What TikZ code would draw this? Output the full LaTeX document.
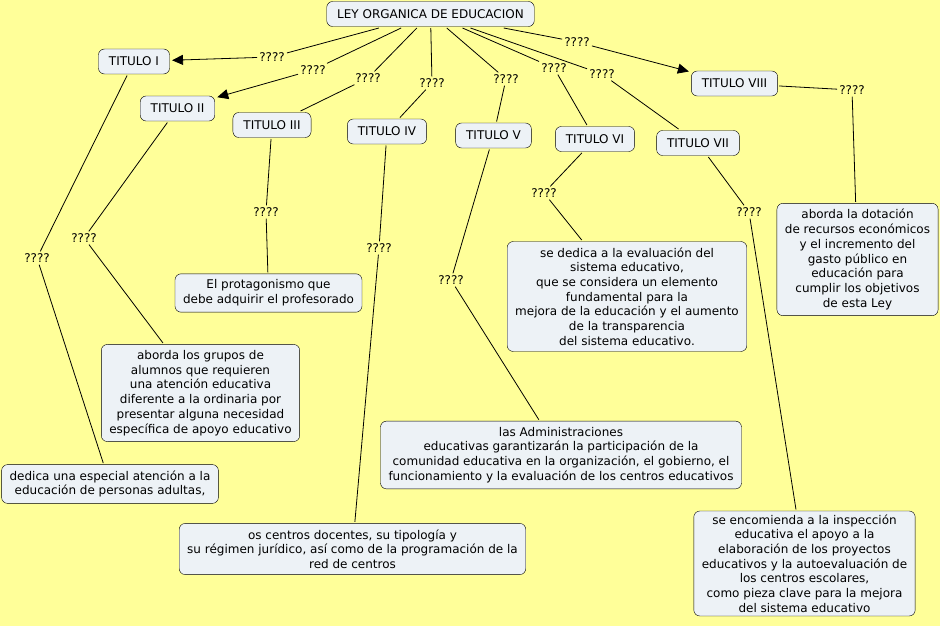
\documentclass[tikz,border=0pt]{standalone}
\usepackage{fontspec}
\setmainfont{DejaVu Sans}
\usetikzlibrary{arrows.meta}
\definecolor{fondo}{RGB}{255,255,153}
\definecolor{caja}{RGB}{237,242,246}

\begin{document}
\begin{tikzpicture}[x=1pt, y=-1pt,
	font=\fontsize{12}{14.7}\selectfont,
	caja/.style = {shape=rectangle, rounded corners=6pt, draw, fill=caja,
		align=center, outer sep=1.5pt},
	titulo/.style = {caja, minimum height=25pt, inner xsep=10.5pt},
	concepto/.style = {caja, inner xsep=8pt, inner ysep=6pt},
	enlace/.style = {inner sep=2pt},
	linea/.style = {draw, line width=0.8pt},
	flecha/.style = {linea, -{Triangle[length=11pt,width=10pt]}, shorten >=1pt}]
	\fill[fondo] (0,0) rectangle (940,626);
	% mapa
	\node[titulo] (ley) at (430.5,14) {LEY ORGANICA DE EDUCACION};
	\node[titulo] (t1) at (134,61.5) {TITULO I};
	\node[titulo] (t2) at (177.5,108.5) {TITULO II};
	\node[titulo] (t3) at (272,125) {TITULO III};
	\node[titulo] (t4) at (387,131.5) {TITULO IV};
	\node[titulo] (t5) at (493.5,135.5) {TITULO V};
	\node[titulo] (t6) at (595,139) {TITULO VI};
	\node[titulo] (t7) at (698,143) {TITULO VII};
	\node[titulo] (t8) at (734.5,83.5) {TITULO VIII};
	% frases de enlace
	\node[enlace] (l1) at (272,57) {????};
	\node[enlace] (l2) at (313,70) {????};
	\node[enlace] (l3) at (368,78) {????};
	\node[enlace] (l4) at (432,83) {????};
	\node[enlace] (l5) at (506,79) {????};
	\node[enlace] (l6) at (554,68) {????};
	\node[enlace] (l7) at (602,74) {????};
	\node[enlace] (l8) at (577,42) {????};
	\node[enlace] (m1) at (37,258) {????};
	\node[enlace] (m2) at (84,238) {????};
	\node[enlace] (m3) at (266,212) {????};
	\node[enlace] (m4) at (379,248) {????};
	\node[enlace] (m5) at (451,280) {????};
	\node[enlace] (m6) at (544,193) {????};
	\node[enlace] (m7) at (749,212) {????};
	\node[enlace] (m8) at (852,90) {????};
	% conceptos
	\node[concepto] (c1) at (110,484) {dedica una especial atención a la\\educación de personas adultas,};
	\node[concepto] (c2) at (200.5,393) {aborda los grupos de\\alumnos que requieren\\una atención educativa\\diferente a la ordinaria por\\presentar alguna necesidad\\específica de apoyo educativo};
	\node[concepto] (c3) at (268.5,293) {El protagonismo que\\debe adquirir el profesorado};
	\node[concepto] (c4) at (352.5,549) {os centros docentes, su tipología y\\su régimen jurídico, así como de la programación de la\\red de centros};
	\node[concepto] (c5) at (561,455) {las Administraciones\\educativas garantizarán la participación de la\\comunidad educativa en la organización, el gobierno, el\\funcionamiento y la evaluación de los centros educativos};
	\node[concepto] (c6) at (627,296.5) {se dedica a la evaluación del\\sistema educativo,\\que se considera un elemento\\fundamental para la\\mejora de la educación y el aumento\\de la transparencia\\del sistema educativo.};
	\node[concepto, inner ysep=3.5pt] (c7) at (804.5,563.5) {se encomienda a la inspección\\educativa el apoyo a la\\elaboración de los proyectos\\educativos y la autoevaluación de\\los centros escolares,\\como pieza clave para la mejora\\del sistema educativo};
	\node[concepto] (c8) at (857.5,259.5) {aborda la dotación\\de recursos económicos\\y el incremento del\\gasto público en\\educación para\\cumplir los objetivos\\de esta Ley};
	% conectores
	\draw[linea] (ley) -- (l1);
	\draw[flecha] (l1) -- (t1);
	\draw[linea] (ley) -- (l2);
	\draw[flecha] (l2) -- (t2);
	\draw[linea] (ley) -- (l8);
	\draw[flecha] (l8) -- (t8);
	\foreach \n in {3,...,7}
		\draw[linea] (ley) -- (l\n) -- (t\n);
	\foreach \n in {1,...,8}
		\draw[linea] (t\n) -- (m\n) -- (c\n);
\end{tikzpicture}
\end{document}
